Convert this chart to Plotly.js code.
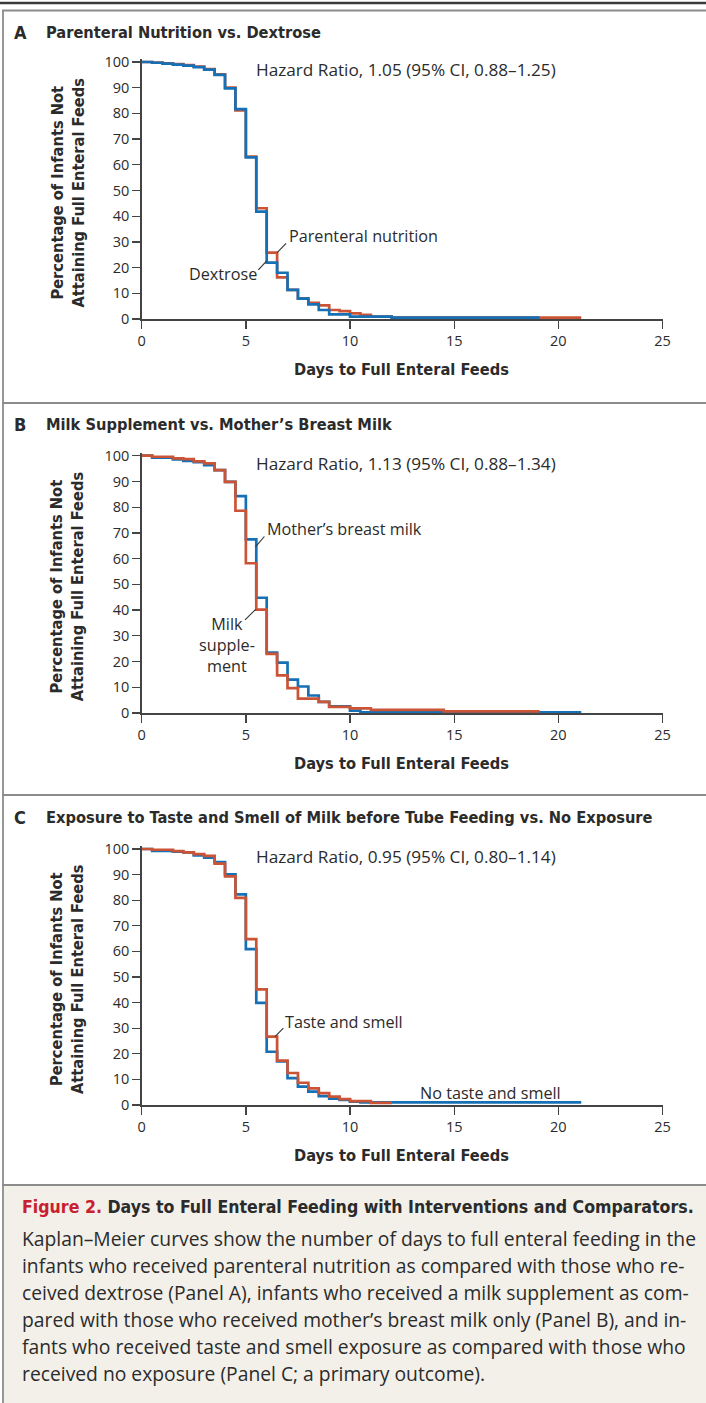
<!DOCTYPE html>
<html><head><meta charset="utf-8">
<script src="https://cdn.plot.ly/plotly-3.0.1.min.js"></script>
<style>html,body{margin:0;padding:0;background:#fff;}#chart{width:706px;height:1403px;}</style>
</head><body><div id="chart"></div>
<script>
// ---------- Data ----------
const xTicks = [0, 5, 10, 15, 20, 25];
const yTicks = [0, 10, 20, 30, 40, 50, 60, 70, 80, 90, 100];

// Panel A
const parenteralDays = [0, 0.5, 1, 1.5, 2, 2.5, 3, 3.5, 4, 4.5, 5, 5.5, 6, 6.5, 7, 7.5, 8, 8.5, 9, 9.5, 10, 10.5, 11, 12, 21.1];
const parenteralPct  = [100, 99.8, 99.5, 99.2, 98.8, 98.2, 97.2, 95.2, 90, 81.2, 63.2, 43.1, 25.8, 16.2, 11.3, 8.0, 6.3, 5.3, 3.5, 3.1, 2.2, 1.6, 0.9, 0.5, 0.5];
const dextroseDays = [0, 0.5, 1, 1.5, 2, 2.5, 3, 3.5, 4, 4.5, 5, 5.5, 6, 6.5, 7, 7.5, 8, 8.5, 9, 10, 12, 19.1];
const dextrosePct  = [100, 99.7, 99.4, 99.0, 98.6, 98.0, 97.0, 95.0, 89.7, 81.7, 62.9, 41.8, 21.9, 18.0, 11.3, 7.9, 5.7, 3.5, 1.8, 0.9, 0.5, 0.5];

// Panel B
const breastDays = [0, 0.5, 1.5, 2, 2.5, 3, 3.5, 4, 4.5, 5, 5.5, 6, 6.5, 7, 7.5, 8, 8.5, 9, 10, 10.5, 21.1];
const breastPct  = [100, 99.2, 98.6, 98.0, 97.5, 96.3, 94.4, 89.8, 84.3, 67.5, 44.8, 23.5, 19.6, 13.0, 10.3, 6.8, 4.3, 2.6, 0.9, 0.3, 0.3];
const supplementDays = [0, 0.5, 1.5, 2, 2.5, 3, 3.5, 4, 4.5, 5, 5.5, 6, 6.5, 7, 7.5, 8.5, 9, 10, 11, 14.5, 19.1];
const supplementPct  = [100, 99.6, 99.0, 98.7, 97.8, 97.0, 94.4, 89.8, 78.6, 58.2, 40.2, 23.0, 14.6, 9.7, 5.6, 4.3, 2.4, 1.8, 1.2, 0.6, 0.6];

// Panel C
const noTasteDays = [0, 0.5, 1.5, 2, 2.5, 3, 3.5, 4, 4.5, 5, 5.5, 6, 6.5, 7, 7.5, 8, 8.5, 9, 9.5, 10, 10.5, 21.1];
const noTastePct  = [100, 99.3, 99.0, 98.7, 97.5, 96.6, 94.9, 90.1, 82.3, 60.9, 39.9, 20.8, 17.0, 10.5, 7.2, 5.2, 3.5, 2.5, 2.0, 1.3, 1.0, 1.0];
const tasteDays = [0, 0.5, 1.5, 2, 2.5, 3, 3.5, 4, 4.5, 5, 5.5, 6, 6.5, 7, 7.5, 8, 8.5, 9, 9.5, 10, 11, 12];
const tastePct  = [100, 99.7, 99.2, 98.7, 98.0, 97.3, 94.3, 89.3, 80.9, 64.8, 45.2, 26.7, 17.3, 12.5, 8.7, 6.5, 4.6, 3.3, 2.3, 1.5, 0.8, 0.8];

// ---------- Styling ----------
const W = 706, H = 1403;
const px = x => x / W;
const py = y => 1 - y / H;
const BLUE = '#1570b5', RED = '#cc5436';
const TXT = '#2b2b2b';
const REG = '"Open Sans", Lato, sans-serif';
const COND = '"Liberation Sans Narrow", "DejaVu Sans Condensed", sans-serif';

function step(x, y, color, xa, ya, name) {
  return {x: x, y: y, type: 'scatter', mode: 'lines', name: name,
    line: {shape: 'hv', color: color, width: 2.7},
    xaxis: xa, yaxis: ya, hoverinfo: 'skip', showlegend: false};
}

const traces = [
  step(parenteralDays, parenteralPct, RED, 'x', 'y', 'Parenteral nutrition'),
  step(dextroseDays, dextrosePct, BLUE, 'x', 'y', 'Dextrose'),
  step(breastDays, breastPct, BLUE, 'x2', 'y2', 'Mother’s breast milk'),
  step(supplementDays, supplementPct, RED, 'x2', 'y2', 'Milk supplement'),
  step(noTasteDays, noTastePct, BLUE, 'x3', 'y3', 'No taste and smell'),
  step(tasteDays, tastePct, RED, 'x3', 'y3', 'Taste and smell')
];

const x0 = 141.7, x25 = 662.5;
const panels = [
  {bottom: 319, top100: 62, titleY: 32, label: 'A', title: 'Parenteral Nutrition vs. Dextrose', hr: 'Hazard Ratio, 1.05 (95% CI, 0.88–1.25)'},
  {bottom: 713, top100: 455.7, titleY: 424, label: 'B', title: 'Milk Supplement vs. Mother’s Breast Milk', hr: 'Hazard Ratio, 1.13 (95% CI, 0.88–1.34)'},
  {bottom: 1105, top100: 849, titleY: 817, label: 'C', title: 'Exposure to Taste and Smell of Milk before Tube Feeding vs. No Exposure', hr: 'Hazard Ratio, 0.95 (95% CI, 0.80–1.14)'}
];

const layout = {
  width: W, height: H,
  margin: {l: 0, r: 0, t: 0, b: 0},
  paper_bgcolor: '#ffffff', plot_bgcolor: 'rgba(0,0,0,0)',
  showlegend: false,
  annotations: [], shapes: []
};

function axisStyle() {
  return {
    ticks: 'outside', ticklen: 8, tickwidth: 1.3, tickcolor: '#444',
    showline: true, linecolor: '#444', linewidth: 1.5,
    showgrid: false, zeroline: false, layer: 'below traces',
    tickfont: {family: REG, size: 14.5, color: TXT}, fixedrange: true
  };
}

panels.forEach((p, i) => {
  const s = i === 0 ? '' : String(i + 1);
  const unit = (p.bottom - p.top100) / 100;
  const top = p.bottom - 101 * unit;
  layout['xaxis' + s] = Object.assign(axisStyle(), {
    domain: [px(x0), px(x25)], range: [0, 25], tickvals: xTicks, anchor: 'y' + s
  });
  layout['yaxis' + s] = Object.assign(axisStyle(), {
    domain: [py(p.bottom), py(top)], range: [0, 101], tickvals: yTicks, anchor: 'x' + s
  });
  const cy = (p.bottom + p.top100) / 2;
  layout.annotations.push(
    {xref: 'paper', yref: 'paper', x: px(12), y: py(p.titleY), xanchor: 'left', yanchor: 'middle', showarrow: false,
     text: '<b>' + p.label + '</b>', font: {family: COND, size: 18, color: TXT}},
    {xref: 'paper', yref: 'paper', x: px(44), y: py(p.titleY), xanchor: 'left', yanchor: 'middle', showarrow: false,
     text: '<b>' + p.title + '</b>', font: {family: COND, size: 16.3, color: TXT}},
    {xref: 'paper', yref: 'paper', x: px(254), y: py(p.top100 + 8), xanchor: 'left', yanchor: 'middle', showarrow: false,
     text: p.hr, font: {family: REG, size: 17.2, color: TXT}},
    {xref: 'paper', yref: 'paper', x: px(67), y: py(cy + 2), xanchor: 'center', yanchor: 'middle', showarrow: false, textangle: -90,
     text: '<b>Percentage of Infants Not<br>Attaining Full Enteral Feeds</b>', font: {family: COND, size: 16.3, color: TXT}},
    {xref: 'paper', yref: 'paper', x: px(402), y: py(p.bottom + 50), xanchor: 'center', yanchor: 'middle', showarrow: false,
     text: '<b>Days to Full Enteral Feeds</b>', font: {family: COND, size: 16.3, color: TXT}}
  );
});

// curve labels
function lab(text, x, y, xa, extra) {
  return Object.assign({xref: 'paper', yref: 'paper', x: px(x), y: py(y), xanchor: xa, yanchor: 'middle',
    showarrow: false, text: text, font: {family: REG, size: 16.2, color: TXT}}, extra || {});
}
layout.annotations.push(
  lab('Parenteral nutrition', 287, 236, 'left'),
  lab('Dextrose', 259, 274, 'right'),
  lab('Mother’s breast milk', 265, 529, 'left'),
  lab('Milk<br>supple-<br>ment', 227, 645, 'center', {align: 'center'}),
  lab('Taste and smell', 283, 1022, 'left'),
  lab('No taste and smell', 418, 1093, 'left')
);

// leader lines (data coordinates)
function leader(xa, ya, xA, yA, xB, yB) {
  return {type: 'line', xref: xa, yref: ya, x0: xA, y0: yA, x1: xB, y1: yB, line: {color: '#333', width: 1.1}};
}
layout.shapes.push(
  leader('x', 'y', 6.5, 25.8, 6.93, 29.4),
  leader('x', 'y', 6.0, 22.6, 5.6, 19.1),
  leader('x2', 'y2', 5.47, 64.7, 5.89, 68.6),
  leader('x2', 'y2', 5.47, 40.3, 4.96, 36.2),
  leader('x3', 'y3', 6.4, 26.7, 6.8, 30.0)
);

// frame & separators
const GRAY = '#8c8c8c';
layout.shapes.push(
  {type: 'rect', xref: 'paper', yref: 'paper', x0: px(3), x1: 1, y0: 0, y1: py(1186), fillcolor: '#f3f0ea', line: {width: 0}, layer: 'below'},
  {type: 'line', xref: 'paper', yref: 'paper', x0: 0, x1: 1, y0: py(3), y1: py(3), line: {color: '#3a3a3a', width: 2.5}},
  {type: 'line', xref: 'paper', yref: 'paper', x0: px(2), x1: 1, y0: py(10.5), y1: py(10.5), line: {color: GRAY, width: 1.8}},
  {type: 'line', xref: 'paper', yref: 'paper', x0: px(3), x1: px(3), y0: py(10), y1: 0, line: {color: GRAY, width: 1.8}},
  {type: 'line', xref: 'paper', yref: 'paper', x0: px(2), x1: 1, y0: py(403), y1: py(403), line: {color: GRAY, width: 1.8}},
  {type: 'line', xref: 'paper', yref: 'paper', x0: px(2), x1: 1, y0: py(795), y1: py(795), line: {color: GRAY, width: 1.8}},
  {type: 'line', xref: 'paper', yref: 'paper', x0: px(2), x1: 1, y0: py(1185), y1: py(1185), line: {color: GRAY, width: 1.8}}
);

// caption
const captionLines = [
  'Kaplan–Meier curves show the number of days to full enteral feeding in the',
  'infants who received parenteral nutrition as compared with those who re-',
  'ceived dextrose (Panel A), infants who received a milk supplement as com-',
  'pared with those who received mother’s breast milk only (Panel B), and in-',
  'fants who received taste and smell exposure as compared with those who',
  'received no exposure (Panel C; a primary outcome).'
];
layout.annotations.push({xref: 'paper', yref: 'paper', x: px(20), y: py(1207), xanchor: 'left', yanchor: 'middle', showarrow: false,
  text: '<b><span style="color:#c8202f">Figure 2.</span> Days to Full Enteral Feeding with Interventions and Comparators.</b>',
  font: {family: COND, size: 17.6, color: TXT}});
captionLines.forEach((t, k) => {
  layout.annotations.push({xref: 'paper', yref: 'paper', x: px(20), y: py(1238 + k * 27), xanchor: 'left', yanchor: 'middle',
    showarrow: false, text: t, font: {family: REG, size: 19.3, color: TXT}});
});

Plotly.newPlot('chart', traces, layout, {staticPlot: true, displayModeBar: false});
</script></body></html>
